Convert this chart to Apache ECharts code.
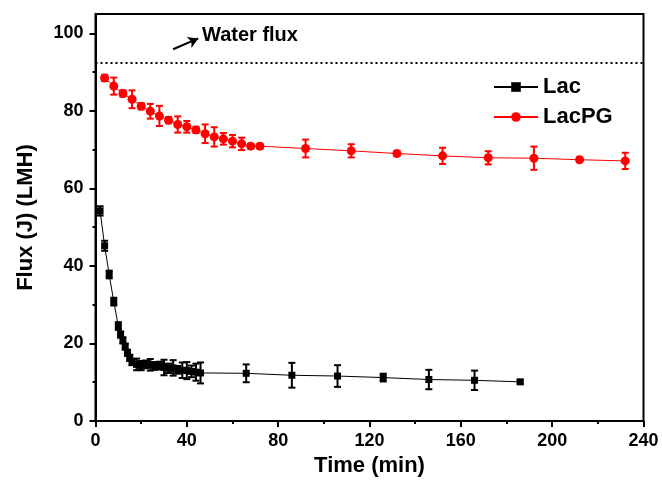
<!DOCTYPE html>
<html>
<head>
<meta charset="utf-8">
<script src="https://cdn.jsdelivr.net/npm/echarts@6/dist/echarts.min.js"></script>
<style>html,body{margin:0;padding:0;background:#fff}#c{width:662px;height:491px}</style>
</head>
<body>
<div id="c"></div>
<script>
// ---- data ----
const lacTime = [2, 4, 6, 8, 10, 11, 12, 13, 14, 15, 16, 18, 20, 22, 24, 26, 28, 30, 32, 34, 36, 38, 40, 42, 44, 46, 66, 86, 106, 126, 146, 166, 186];
const lacFlux = [54.2, 45.2, 37.8, 30.8, 24.5, 22.3, 20.8, 19.2, 17.6, 16.3, 15.2, 14.6, 14.3, 14.6, 14.5, 14.2, 14.3, 13.8, 13.6, 13.7, 13.2, 13.1, 13.0, 12.8, 12.6, 12.4, 12.3, 11.8, 11.6, 11.2, 10.7, 10.5, 10.1];
const lacErr  = [1.2, 1.3, 1.0, 1.0, 1.0, 0.8, 0.8, 0.8, 0.8, 0.8, 0.8, 1.5, 1.2, 1.0, 1.5, 1.0, 1.0, 2.0, 1.2, 2.0, 1.0, 2.0, 2.2, 1.5, 2.2, 2.7, 2.3, 3.2, 2.8, 1.0, 2.5, 2.5, 0.5];
const pgTime = [4, 8, 12, 16, 20, 24, 28, 32, 36, 40, 44, 48, 52, 56, 60, 64, 68, 72, 92, 112, 132, 152, 172, 192, 212, 232];
const pgFlux = [88.5, 86.4, 84.5, 83.0, 81.2, 79.9, 78.7, 77.6, 76.5, 75.9, 75.1, 74.1, 73.3, 72.8, 72.2, 71.5, 70.9, 70.9, 70.3, 69.7, 69.0, 68.4, 67.9, 67.8, 67.4, 67.1];
const pgErr  = [0.8, 2.2, 0.8, 2.3, 0.8, 1.9, 2.6, 0.8, 2.1, 1.5, 0.8, 2.4, 2.5, 1.5, 1.6, 1.6, 0.6, 0.6, 2.3, 1.7, 0.6, 2.1, 1.7, 3.0, 0.6, 2.1];
const waterFlux = 92.3;
const arrowFrom = [34, 95.9];
const arrowTo = [45, 98.7];
const yMajorTicks = [0, 20, 40, 60, 80, 100];
const yMinorTicks = [10, 30, 50, 70, 90];

const FONT = '"Liberation Sans", Arial, sans-serif';

function zip3(t, v, e) { return t.map((x, i) => [x, v[i], e[i]]); }

function errRender(color) {
  return function (params, api) {
    const x = api.value(0), y = api.value(1), e = api.value(2);
    const top = api.coord([x, y + e]);
    const bot = api.coord([x, y - e]);
    const hw = 3.5;
    const st = { stroke: color, lineWidth: 2 };
    return {
      type: 'group',
      children: [
        { type: 'line', shape: { x1: top[0], y1: top[1], x2: bot[0], y2: bot[1] }, style: st },
        { type: 'line', shape: { x1: top[0] - hw, y1: top[1], x2: top[0] + hw, y2: top[1] }, style: st },
        { type: 'line', shape: { x1: bot[0] - hw, y1: bot[1], x2: bot[0] + hw, y2: bot[1] }, style: st }
      ]
    };
  };
}

const chart = echarts.init(document.getElementById('c'), null, { renderer: 'canvas' });
chart.setOption({
  animation: false,
  backgroundColor: '#fff',
  textStyle: { fontFamily: FONT },
  grid: { left: 95.5, right: 18.5, top: 14, bottom: 70, show: true, borderColor: '#000', borderWidth: 2, backgroundColor: 'transparent' },
  legend: {
    data: ['Lac', 'LacPG'],
    orient: 'vertical',
    left: 488, top: 71,
    itemWidth: 44, itemHeight: 12, itemGap: 8,
    textStyle: { fontFamily: FONT, fontSize: 22, fontWeight: 'bold', color: '#000', lineHeight: 22 }
  },
  xAxis: {
    type: 'value', min: 0, max: 240, interval: 40,
    axisLine: { show: true, lineStyle: { color: '#000', width: 2 } },
    axisTick: { show: true, length: 6, lineStyle: { color: '#000', width: 2 } },
    minorTick: { show: true, splitNumber: 2, length: 3, lineStyle: { color: '#000', width: 2 } },
    splitLine: { show: false },
    axisLabel: { color: '#000', fontSize: 18, fontWeight: 'bold', fontFamily: FONT, margin: 11 },
    name: 'Time (min)', nameLocation: 'middle', nameGap: 22,
    nameTextStyle: { color: '#000', fontSize: 22, fontWeight: 'bold', fontFamily: FONT }
  },
  yAxis: [{
    type: 'value', min: 0, max: 105, position: 'left',
    axisLine: { show: true, lineStyle: { color: '#000', width: 2 } },
    axisTick: { show: true, length: 6, customValues: yMajorTicks, lineStyle: { color: '#000', width: 2 } },
    splitLine: { show: false },
    axisLabel: { color: '#000', fontSize: 18, fontWeight: 'bold', fontFamily: FONT, margin: 12, customValues: yMajorTicks },
    name: 'Flux (J) (LMH)', nameLocation: 'middle', nameGap: 59,
    nameTextStyle: { color: '#000', fontSize: 22, fontWeight: 'bold', fontFamily: FONT }
  }, {
    type: 'value', min: 0, max: 105, position: 'left', offset: 0,
    axisLine: { show: false },
    axisTick: { show: true, length: 3, customValues: yMinorTicks, lineStyle: { color: '#000', width: 2 } },
    axisLabel: { show: false, customValues: yMinorTicks },
    splitLine: { show: false }
  }],
  graphic: [{
    type: 'text', left: 202, top: 25,
    style: { text: 'Water flux', font: 'bold 20px ' + FONT, fill: '#000' }
  }],
  series: [
    {
      name: 'LacErr', type: 'custom', renderItem: errRender('#000'),
      data: zip3(lacTime, lacFlux, lacErr), encode: { x: 0, y: 1 }, z: 2, silent: true
    },
    {
      name: 'PGErr', type: 'custom', renderItem: errRender('#ff0000'),
      data: zip3(pgTime, pgFlux, pgErr), encode: { x: 0, y: 1 }, z: 2, silent: true
    },
    {
      name: 'Lac', type: 'line', data: lacTime.map((t, i) => [t, lacFlux[i]]),
      symbol: 'rect', symbolSize: 7, color: '#000',
      lineStyle: { color: '#000', width: 1 }, itemStyle: { color: '#000' }, z: 3,
      markLine: {
        silent: true, symbol: ['none', 'none'], animation: false,
        label: { show: false },
        lineStyle: { color: '#000', width: 2, type: [2, 3] },
        data: [{ yAxis: waterFlux }]
      }
    },
    {
      name: 'LacPG', type: 'line', data: pgTime.map((t, i) => [t, pgFlux[i]]),
      symbol: 'circle', symbolSize: 9, color: '#ff0000',
      lineStyle: { color: '#ff0000', width: 1 }, itemStyle: { color: '#ff0000' }, z: 3,
      markLine: {
        silent: true, symbol: ['none', 'arrow'], symbolSize: [9, 10], animation: false,
        label: { show: false },
        lineStyle: { color: '#000', width: 2, type: 'solid' },
        data: [[{ coord: arrowFrom }, { coord: arrowTo }]]
      }
    }
  ]
});
</script>
</body>
</html>
